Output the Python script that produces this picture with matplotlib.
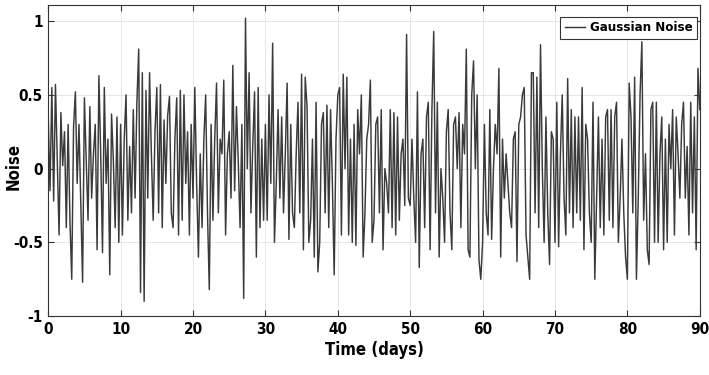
import numpy as np
import matplotlib
matplotlib.use("Agg")
import matplotlib.pyplot as plt
from matplotlib.ticker import FormatStrFormatter

# noise samples, 0.25-day spacing, one list per 10 days
noise_00_10 = [0.35, -0.15, 0.55, -0.22, 0.57, 0.05, -0.45, 0.38, 0.02, 0.25,
               -0.4, 0.3, -0.35, -0.75, 0.28, 0.52, -0.1, 0.3, -0.25, -0.77,
               0.48, 0.05, -0.35, 0.42, -0.2, 0.1, 0.3, -0.55, 0.63, 0.1,
               -0.57, 0.55, -0.1, 0.2, -0.72, 0.37, 0.05, -0.4, 0.35, -0.5]
noise_10_20 = [0.3, -0.45, 0.2, 0.5, -0.35, 0.15, -0.3, 0.4, -0.2, 0.45,
               0.81, -0.84, 0.65, -0.9, 0.53, -0.2, 0.65, 0.1, -0.35, 0.25,
               0.55, -0.3, 0.57, -0.4, 0.33, -0.1, 0.36, 0.49, -0.3, -0.4,
               0.2, 0.48, -0.45, 0.53, -0.35, 0.5, -0.1, 0.25, -0.45, 0.3]
noise_20_30 = [-0.2, 0.55, -0.1, -0.6, 0.1, -0.4, 0.2, 0.5, -0.3, -0.82,
               0.3, -0.35, 0.2, 0.58, -0.3, 0.2, 0.1, 0.6, -0.45, 0.1,
               0.25, -0.2, 0.7, -0.15, 0.42, 0.05, -0.4, 0.3, -0.88, 1.02,
               0.0, 0.65, -0.3, 0.15, 0.52, -0.6, 0.55, -0.4, 0.2, -0.35]
noise_30_40 = [0.3, -0.35, 0.5, -0.1, 0.85, -0.5, -0.1, 0.4, -0.2, 0.35,
               -0.3, 0.1, 0.58, -0.48, 0.3, -0.3, -0.4, 0.1, 0.45, -0.3,
               0.64, -0.55, 0.62, 0.42, -0.5, -0.35, 0.2, -0.6, 0.45, -0.7,
               -0.5, 0.3, 0.38, -0.3, 0.43, -0.4, 0.4, -0.1, -0.72, 0.2]
noise_40_50 = [0.5, 0.55, -0.45, 0.64, 0.0, 0.62, -0.45, 0.2, -0.5, 0.3,
               -0.52, 0.4, 0.1, 0.5, -0.6, -0.3, 0.2, 0.3, 0.6, -0.5,
               -0.35, 0.3, 0.35, -0.3, 0.4, -0.55, 0.0, -0.1, -0.3, 0.4,
               -0.4, 0.38, -0.45, 0.35, -0.35, 0.1, 0.2, -0.25, 0.91, -0.2]
noise_50_60 = [-0.25, 0.2, -0.2, -0.5, 0.52, -0.67, 0.1, 0.2, -0.4, 0.35,
               0.45, -0.55, 0.4, 0.93, -0.3, 0.45, -0.6, 0.0, -0.2, -0.5,
               0.25, 0.4, -0.3, -0.55, 0.3, 0.35, 0.0, 0.38, -0.4, 0.3,
               0.1, 0.81, -0.55, -0.6, 0.5, 0.73, 0.0, 0.5, -0.62, -0.75]
noise_60_70 = [-0.5, 0.3, -0.3, -0.45, 0.4, -0.48, 0.0, 0.3, 0.1, 0.68,
               -0.6, 0.2, -0.2, 0.1, -0.1, -0.3, -0.4, 0.2, 0.25, -0.63,
               0.3, 0.35, 0.5, 0.55, -0.45, -0.6, -0.75, 0.65, 0.65, -0.3,
               0.62, -0.4, 0.84, 0.0, -0.5, 0.35, -0.3, -0.65, 0.25, 0.2]
noise_70_80 = [-0.5, 0.45, -0.53, 0.1, 0.5, -0.2, -0.45, 0.61, -0.3, 0.4,
               -0.4, 0.35, -0.3, 0.35, -0.35, 0.55, -0.55, 0.3, 0.2, -0.3,
               -0.5, 0.45, -0.75, -0.2, 0.35, -0.4, 0.2, -0.45, 0.35, 0.4,
               -0.35, 0.4, -0.4, 0.35, 0.45, -0.5, -0.2, 0.2, -0.3, -0.6]
noise_80_90 = [-0.75, 0.58, 0.35, -0.3, 0.62, -0.75, -0.2, 0.5, 0.86, -0.35,
               0.1, -0.55, -0.65, 0.4, 0.45, -0.5, 0.45, -0.5, 0.1, 0.35,
               -0.55, 0.2, -0.5, 0.3, 0.0, 0.4, -0.45, 0.35, 0.1, -0.2,
               0.3, 0.45, -0.2, 0.15, -0.45, 0.45, -0.3, 0.35, -0.55, 0.68, 0.4]

x_ticks = [0, 10, 20, 30, 40, 50, 60, 70, 80, 90]
y_ticks = [-1, -0.5, 0, 0.5, 1]

noise = np.array(noise_00_10 + noise_10_20 + noise_20_30 + noise_30_40
                 + noise_40_50 + noise_50_60 + noise_60_70 + noise_70_80
                 + noise_80_90)
t = np.linspace(0, 90, len(noise))

plt.rcParams["font.family"] = ["DejaVu Sans"]
plt.rcParams["font.stretch"] = "condensed"
plt.rcParams["font.weight"] = "bold"

fig = plt.figure(figsize=(7.09, 3.75), dpi=100)
ax = fig.add_axes([0.068, 0.157, 0.919, 0.83])

ax.plot(t, noise, color="#3a3a3a", lw=1.05, label="Gaussian Noise")
ax.set_xlim(0, 90)
ax.set_ylim(-1, 1.11)
ax.set_xticks(x_ticks)
ax.set_yticks(y_ticks)
ax.yaxis.set_major_formatter(FormatStrFormatter("%g"))
ax.tick_params(direction="in", top=True, right=True, length=4,
               labelsize=11, color="#333333", pad=4)
for lab in ax.get_xticklabels() + ax.get_yticklabels():
    lab.set_fontweight("bold")
ax.grid(True, color="#e3e3e3", lw=0.6)
for s in ax.spines.values():
    s.set_color("#333333")
    s.set_linewidth(0.8)

ax.set_xlabel("Time (days)", fontsize=12, fontweight="bold", labelpad=3)
ax.set_ylabel("Noise", fontsize=12, fontweight="bold")
ax.yaxis.set_label_coords(-0.04, 0.48)

leg = ax.legend(loc="upper right", bbox_to_anchor=(0.996, 0.962),
                fontsize=9.5, handlelength=1.5, handletextpad=0.4,
                borderaxespad=0.0, fancybox=False, framealpha=1,
                borderpad=0.35)
leg.get_frame().set_edgecolor("#333333")
leg.get_frame().set_linewidth(0.8)
for txt in leg.get_texts():
    txt.set_fontweight("bold")

fig.savefig("out.png", dpi=100)
